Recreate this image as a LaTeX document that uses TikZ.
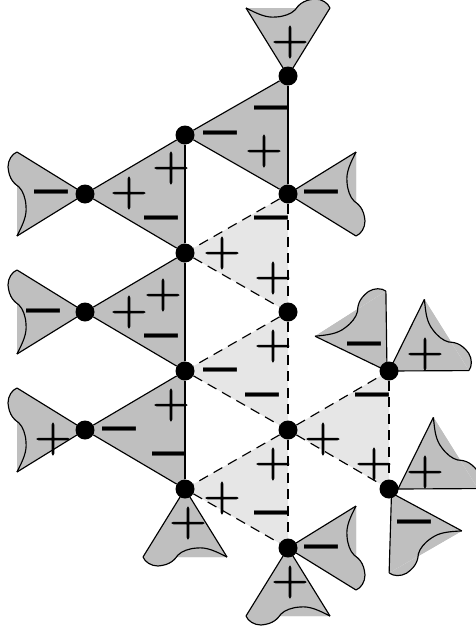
\documentclass[tikz,border=0pt]{standalone}
\usepackage{fontspec}
\setmainfont{Liberation Sans}
\newfontfamily\plusfont[FakeBold=1.5]{Latin Modern Roman}
\usetikzlibrary{backgrounds}
\definecolor{darkfill}{HTML}{BFBFBF}
\definecolor{lightfill}{HTML}{E6E6E6}
\tikzset{
  dot/.style={circle,fill=black,draw=none,minimum size=19pt,inner sep=0pt},
  solidedge/.style={draw=black,line width=1.15pt},
  dashededge/.style={draw=black,line width=1.15pt,dash pattern=on 10pt off 6.5pt},
  plussign/.style={inner sep=0pt,font=\plusfont\fontsize{51}{51}\selectfont},
  minussign/.style={inner sep=0pt,font=\fontsize{61}{61}\selectfont}
}
\newcommand{\farcurve}{(68,42) .. controls (62,30) and (58,22) .. (59,12) .. controls (59.5,4) and (62,-3) .. (66,-7) .. controls (70,-10) and (76,-14) .. (77,-27) .. controls (77,-34) and (73,-40) .. (68,-42)}
\newcommand{\flap}[3]{%
  \begin{scope}[shift={(#1,#2)},rotate=#3,y=1pt]
    \fill[darkfill] (0,0) -- (68,42) -- (68,-42) -- cycle;
    \fill[darkfill] \farcurve -- cycle;
    \draw[solidedge,line join=round] (0,0) -- (68,42);
    \draw[solidedge,line join=round] (0,0) -- (68,-42);
    \draw[solidedge] \farcurve;
  \end{scope}}
\newcommand{\pl}[2]{\node[plussign] at (#1,#2) {\smash{\raisebox{-12.75pt}{+}}};}
\newcommand{\mn}[2]{\node[minussign] at (#1,#2) {\smash{\raisebox{-15.2pt}{–}}};}
\begin{document}
\begin{tikzpicture}[x=1pt,y=-1pt]
\useasboundingbox (0,0) rectangle (475,632);
\node[dot] (a) at (288,76) {};
\node[dot] (b) at (185,135) {};
\node[dot] (c) at (288,194) {};
\node[dot] (d) at (85,194) {};
\node[dot] (e) at (185,253) {};
\node[dot] (f) at (288,312) {};
\node[dot] (g) at (85,312) {};
\node[dot] (h) at (185,371) {};
\node[dot] (i) at (288,430) {};
\node[dot] (j) at (85,430) {};
\node[dot] (k) at (185,489) {};
\node[dot] (l) at (288,548) {};
\node[dot] (m) at (389,371) {};
\node[dot] (n) at (389,489) {};
\begin{pgfonlayer}{background}
  \fill[darkfill] (a.center) -- (b.center) -- (c.center) -- cycle;
  \fill[darkfill] (b.center) -- (d.center) -- (e.center) -- cycle;
  \fill[darkfill] (e.center) -- (g.center) -- (h.center) -- cycle;
  \fill[darkfill] (h.center) -- (j.center) -- (k.center) -- cycle;
  \fill[lightfill] (c.center) -- (e.center) -- (f.center) -- cycle;
  \fill[lightfill] (f.center) -- (h.center) -- (i.center) -- cycle;
  \fill[lightfill] (i.center) -- (k.center) -- (l.center) -- cycle;
  \fill[lightfill] (i.center) -- (m.center) -- (n.center) -- cycle;
  \flap{288}{76}{90}
  \flap{288}{194}{0}
  \flap{85}{194}{180}
  \flap{85}{312}{180}
  \flap{85}{430}{180}
  \flap{185}{489}{270}
  \flap{288}{548}{0}
  \flap{288}{548}{270}
  \flap{387}{371}{122.5}
  \flap{389}{371}{32}
  \flap{398}{489}{32}
  \flap{391.5}{493}{-60}
  \draw[solidedge] (a) -- (b);
  \draw[solidedge] (b) -- (c);
  \draw[solidedge] (a) -- (c);
  \draw[solidedge] (b) -- (d);
  \draw[solidedge] (d) -- (e);
  \draw[solidedge] (b) -- (e);
  \draw[solidedge] (e) -- (g);
  \draw[solidedge] (g) -- (h);
  \draw[solidedge] (e) -- (h);
  \draw[solidedge] (h) -- (j);
  \draw[solidedge] (j) -- (k);
  \draw[solidedge] (h) -- (k);
  \draw[dashededge] (c) -- (e);
  \draw[dashededge] (c) -- (f);
  \draw[dashededge] (e) -- (f);
  \draw[dashededge] (f) -- (h);
  \draw[dashededge] (f) -- (i);
  \draw[dashededge] (h) -- (i);
  \draw[dashededge] (i) -- (k);
  \draw[dashededge] (i) -- (l);
  \draw[dashededge] (k) -- (l);
  \draw[dashededge] (i) -- (m);
  \draw[dashededge] (m) -- (n);
  \draw[dashededge] (i) -- (n);
\end{pgfonlayer}
\pl{290}{42}\mn{271}{108}\pl{264}{151}\mn{220}{133}
\pl{171}{168}\pl{129}{193}\mn{51}{192}\mn{161}{218}\mn{321}{192}\mn{271}{218}
\pl{222}{253}\pl{273}{278}\pl{163}{295}\pl{129}{312}\mn{43}{311}\mn{161}{336}
\pl{273}{346}\mn{364}{344}\pl{425}{354}\mn{220}{370}\mn{262}{395}\mn{372}{395}
\pl{171}{405}\mn{119}{429}\pl{53}{439}\pl{323}{439}\mn{169}{454}\pl{273}{464}
\pl{374}{464}\pl{425}{472}\pl{222}{498}\mn{271}{513}\mn{414}{522}\pl{188}{523}
\mn{321}{547}\pl{290}{582}
\end{tikzpicture}
\end{document}
